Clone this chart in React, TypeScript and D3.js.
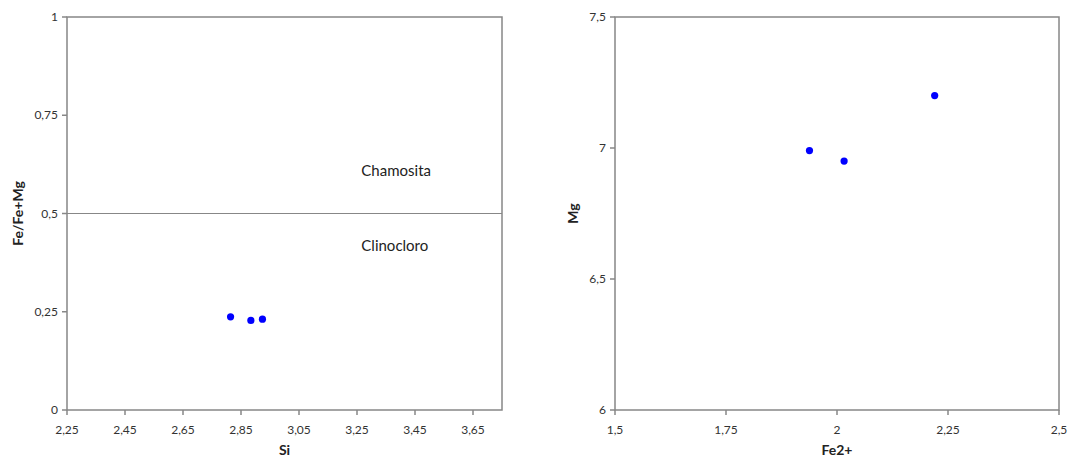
import React from "react";
import * as d3 from "d3";

const siValues = [2.814, 2.884, 2.924];
const feRatioValues = [0.237, 0.228, 0.231];
const siTicks = [2.25, 2.45, 2.65, 2.85, 3.05, 3.25, 3.45, 3.65];
const feRatioTicks = [0, 0.25, 0.5, 0.75, 1];
const fe2Values = [1.938, 2.016, 2.22];
const mgValues = [6.99, 6.95, 7.2];
const fe2Ticks = [1.5, 1.75, 2, 2.25, 2.5];
const mgTicks = [6, 6.5, 7, 7.5];
const fieldLabels = [
  { text: "Chamosita", x: 3.265, y: 0.595 },
  { text: "Clinocloro", x: 3.265, y: 0.405 },
];
const divider = 0.5;

const fmt = (v: number) => String(v).replace(".", ",");
const AXIS = "#878787";
const FONT = "Lato, 'Open Sans', sans-serif";

type PanelProps = {
  left: number; right: number; top: number; bottom: number;
  xDomain: [number, number]; yDomain: [number, number];
  xTicks: number[]; yTicks: number[];
  xs: number[]; ys: number[];
  xTitle: string; yTitle: string; yTitleX: number;
  children?: (x: d3.ScaleLinear<number, number>, y: d3.ScaleLinear<number, number>) => React.ReactNode;
};

function Panel(p: PanelProps) {
  const x = d3.scaleLinear().domain(p.xDomain).range([p.left, p.right]);
  const y = d3.scaleLinear().domain(p.yDomain).range([p.bottom, p.top]);
  const midY = (p.top + p.bottom) / 2;
  return (
    <g>
      <rect x={p.left} y={p.top} width={p.right - p.left} height={p.bottom - p.top} fill="none" stroke={AXIS} strokeWidth={1.5} />
      {p.children && p.children(x, y)}
      {p.yTicks.map((t) => (
        <g key={"y" + t}>
          <line x1={p.left - 5} x2={p.left} y1={y(t)} y2={y(t)} stroke={AXIS} strokeWidth={1.5} />
          <text x={p.left - 9} y={y(t)} dy="0.35em" textAnchor="end" fontSize={12} fill="#333" fontFamily={FONT}>{fmt(t)}</text>
        </g>
      ))}
      {p.xTicks.map((t) => (
        <g key={"x" + t}>
          <line x1={x(t)} x2={x(t)} y1={p.bottom} y2={p.bottom + 5} stroke={AXIS} strokeWidth={1.5} />
          <text x={x(t)} y={p.bottom + 24} textAnchor="middle" fontSize={12} fill="#333" fontFamily={FONT}>{fmt(t)}</text>
        </g>
      ))}
      <text x={(p.left + p.right) / 2} y={p.bottom + 45} textAnchor="middle" fontSize={14} fontWeight="bold" fill="#222" fontFamily={FONT}>{p.xTitle}</text>
      <text transform={`translate(${p.yTitleX},${midY}) rotate(-90)`} textAnchor="middle" fontSize={14} fontWeight="bold" fill="#222" fontFamily={FONT}>{p.yTitle}</text>
      {p.xs.map((v, i) => (
        <circle key={"p" + i} cx={x(v)} cy={y(p.ys[i])} r={3.6} fill="#0000ff" />
      ))}
    </g>
  );
}

export default function App() {
  return (
    <svg width={1068} height={457} style={{ position: "absolute", left: 0, top: 0, background: "#fff" }}>
      <Panel left={67} right={502} top={17} bottom={410} xDomain={[2.25, 3.75]} yDomain={[0, 1]}
        xTicks={siTicks} yTicks={feRatioTicks} xs={siValues} ys={feRatioValues}
        xTitle="Si" yTitle="Fe/Fe+Mg" yTitleX={23}>
        {(x, y) => (
          <g>
            <line x1={x(2.25)} x2={x(3.75)} y1={y(divider)} y2={y(divider)} stroke={AXIS} strokeWidth={1.2} />
            {fieldLabels.map((l) => (
              <text key={l.text} x={x(l.x)} y={y(l.y)} fontSize={15} fill="#222" fontFamily={FONT}>{l.text}</text>
            ))}
          </g>
        )}
      </Panel>
      <Panel left={615} right={1059} top={17} bottom={410} xDomain={[1.5, 2.5]} yDomain={[6, 7.5]}
        xTicks={fe2Ticks} yTicks={mgTicks} xs={fe2Values} ys={mgValues}
        xTitle="Fe2+" yTitle="Mg" yTitleX={578} />
    </svg>
  );
}
